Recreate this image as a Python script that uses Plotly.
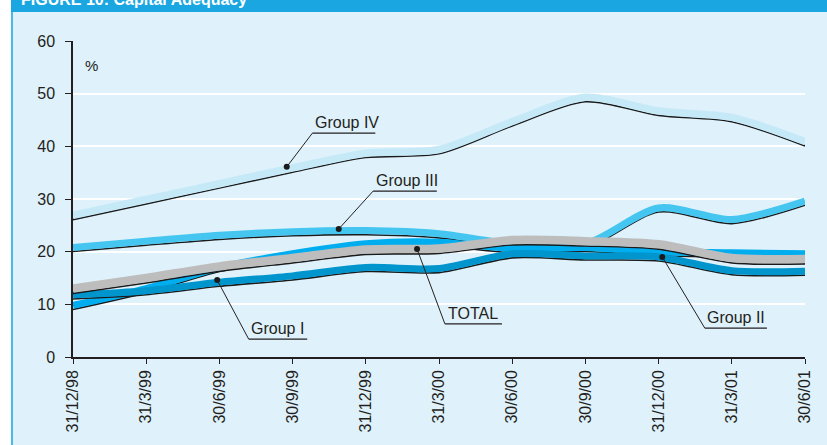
import plotly.graph_objects as go

# ---------------- data ----------------
dates = ["31/12/98", "31/3/99", "30/6/99", "30/9/99", "31/12/99", "31/3/00",
         "30/6/00", "30/9/00", "31/12/00", "31/3/01", "30/6/01"]
group_iv = [26.9, 29.9, 32.9, 35.9, 38.7, 39.4, 44.7, 49.3, 46.7, 45.5, 40.9]
group_iii = [20.8, 22.0, 23.1, 23.8, 24.0, 23.4, 21.5, 21.5, 28.3, 26.1, 29.6]
group_ii = [9.8, 13.0, 17.0, 19.6, 21.5, 21.8, 20.6, 20.8, 20.0, 19.8, 19.6]
group_i = [11.8, 12.6, 14.2, 15.4, 17.0, 16.8, 19.6, 19.2, 19.0, 16.4, 16.3]
total = [13.0, 15.0, 17.2, 18.8, 20.4, 20.6, 22.2, 22.0, 21.4, 18.8, 18.6]
y_ticks = [0, 10, 20, 30, 40, 50, 60]

# label annotations: name, dot (x, y), underline left x, underline y, underline right x
labels = [
    ("Group IV", 2.92, 36.1, 3.27, 42.5, 4.13),
    ("Group III", 3.63, 24.3, 4.10, 31.5, 4.97),
    ("Group I", 1.97, 14.6, 2.40, 3.4, 3.20),
    ("TOTAL", 4.70, 20.5, 5.08, 6.3, 5.86),
    ("Group II", 8.05, 19.0, 8.63, 5.5, 9.48),
]

# ---------------- style ----------------
FONT = "Liberation Sans, Arial, Helvetica, sans-serif"
TXT = "#231f20"
BG = "#dff1fb"
W, H = 827, 445
L, R, T, B = 73, 22, 41, 88
plot_h = H - T - B
plot_w = W - L - R
px_per_unit = plot_h / 60.0

def px_x(px):
    return (px - L) / plot_w

def px_y(py):
    return (H - B - py) / plot_h

series = [
    (group_iv, "#c6e9f8", 7.5),
    (group_iii, "#45c6f1", 7),
    (group_ii, "#00aeef", 7),
    (group_i, "#0095cc", 7),
    (total, "#bdbdbd", 8.5),
]

xs = list(range(len(dates)))
fig = go.Figure()
for vals, color, width in series:
    off = (width / 2 + 0.6) / px_per_unit
    fig.add_trace(go.Scatter(
        x=xs, y=[v - off for v in vals], mode="lines",
        line=dict(color="#1a1a1a", width=1.6, shape="spline", smoothing=0.8),
        hoverinfo="skip"))
    fig.add_trace(go.Scatter(
        x=xs, y=vals, mode="lines",
        line=dict(color=color, width=width, shape="spline", smoothing=0.8),
        hoverinfo="skip"))

shapes = []
annotations = []
for name, dx, dy, ux, uy, ux2 in labels:
    shapes.append(dict(type="line", xref="x", yref="y", x0=dx, y0=dy, x1=ux, y1=uy,
                       line=dict(color="#231f20", width=1)))
    shapes.append(dict(type="line", xref="x", yref="y", x0=ux, y0=uy, x1=ux2, y1=uy,
                       line=dict(color="#231f20", width=1.2)))
    annotations.append(dict(x=ux + 0.01, y=uy, xref="x", yref="y", text=name,
                            showarrow=False, xanchor="left", yanchor="bottom",
                            font=dict(family=FONT, size=16, color=TXT)))

fig.add_trace(go.Scatter(
    x=[l[1] for l in labels], y=[l[2] for l in labels], mode="markers",
    marker=dict(color="#1a1a1a", size=6), hoverinfo="skip", cliponaxis=False))

# frame: white strip on the left, blue border, header bar
shapes += [
    dict(type="rect", xref="paper", yref="paper", x0=-0.2, x1=px_x(11),
         y0=-0.5, y1=1.5, fillcolor="white", line=dict(width=0), layer="above"),
    dict(type="line", xref="paper", yref="paper", x0=px_x(12), x1=px_x(12),
         y0=px_y(446), y1=px_y(10), line=dict(color="#4ab9e8", width=2), layer="above"),
    dict(type="rect", xref="paper", yref="paper", x0=px_x(11), x1=1.2,
         y0=px_y(12), y1=1.5, fillcolor="#1aa7e1", line=dict(width=0), layer="above"),
]
annotations.append(dict(x=px_x(19), y=px_y(10), xref="paper", yref="paper",
                        text="<b>FIGURE 10: Capital Adequacy</b>", showarrow=False,
                        xanchor="left", yanchor="bottom",
                        font=dict(family=FONT, size=16, color="white")))
annotations.append(dict(x=px_x(83), y=55.4, xref="paper", yref="y", text="%",
                        showarrow=False, xanchor="left", yanchor="middle",
                        font=dict(family=FONT, size=15, color=TXT)))

fig.update_layout(
    width=W, height=H,
    margin=dict(l=L, r=R, t=T, b=B, pad=0),
    paper_bgcolor=BG, plot_bgcolor=BG,
    showlegend=False,
    shapes=shapes, annotations=annotations,
    font=dict(family=FONT, size=15, color=TXT),
    xaxis=dict(range=[0, len(dates) - 1], tickmode="array", tickvals=xs, ticktext=dates,
               tickangle=-90, showgrid=False, zeroline=False,
               showline=True, linecolor="#231f20", linewidth=1.5,
               ticks="outside", ticklen=5, tickcolor="#231f20", tickwidth=1.2,
               tickfont=dict(family=FONT, size=16, color=TXT)),
    yaxis=dict(range=[0, 60], tickmode="array", tickvals=y_ticks,
               showgrid=True, gridcolor="white", gridwidth=1.5, zeroline=False,
               showline=True, linecolor="#231f20", linewidth=1.5,
               ticks="outside", ticklen=6, tickcolor="#231f20", tickwidth=1.2,
               ticklabelstandoff=7,
               tickfont=dict(family=FONT, size=16, color=TXT)),
)

fig.write_html("out.html", config={"displayModeBar": False},
               post_script="document.body.style.margin='0';document.body.style.padding='0';")
